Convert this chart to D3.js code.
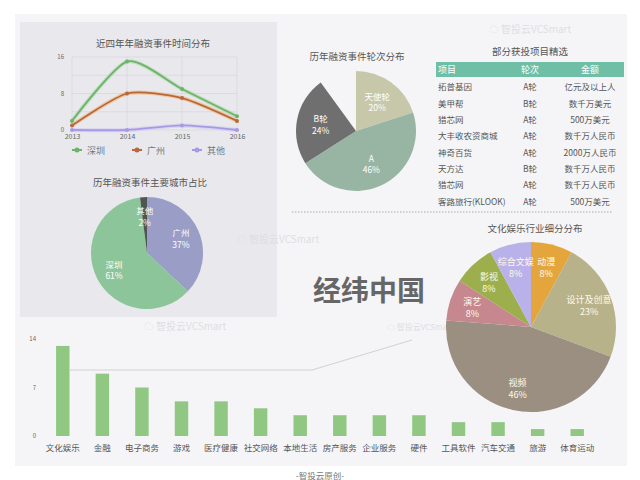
<!DOCTYPE html>
<html>
<head>
<meta charset="utf-8">
<script src="https://cdn.jsdelivr.net/npm/d3@7"></script>
<style>
body { margin: 0; background: #fff; }
text { font-family: "Noto Sans CJK SC", "Noto Sans", sans-serif; }
</style>
</head>
<body>
<script>
// line chart data
var years = ["2013", "2014", "2015", "2016"];
var szVals = [2, 15, 9, 3];
var gzVals = [1, 8, 7, 2];
var otVals = [0, 0, 1, 0];
var lineNames = ["深圳", "广州", "其他"];

// city pie
var cityNames = ["广州", "深圳", "其他"];
var cityPct = [37, 61, 2];

// round pie (last slice is not shown in the picture)
var roundNames = ["天使轮", "A", "B轮", ""];
var roundPct = [20, 46, 24, 10];

// table
var tblHead = ["项目", "轮次", "金额"];
var tblProj = ["拓普基因", "美甲帮", "猎芯网", "大丰收农资商城", "神奇百货", "天方达", "猎芯网", "客路旅行(KLOOK)"];
var tblRound = ["A轮", "B轮", "A轮", "A轮", "A轮", "B轮", "A轮", "A轮"];
var tblMoney = ["亿元及以上人", "数千万美元", "500万美元", "数千万人民币", "2000万人民币", "数千万人民币", "数千万人民币", "500万美元"];

// culture pie
var cultNames = ["动漫", "设计及创意", "视频", "演艺", "影视", "综合文娱"];
var cultPct = [8, 23, 46, 8, 8, 8];

// industry bars
var industries = ["文化娱乐", "金融", "电子商务", "游戏", "医疗健康", "社交网络", "本地生活", "房产服务", "企业服务", "硬件", "工具软件", "汽车交通", "旅游", "体育运动"];
var indCounts = [13, 9, 7, 5, 5, 4, 3, 3, 3, 3, 2, 2, 1, 1];
var barTicks = [0, 7, 14];

var svg = d3.select("body").append("svg")
    .attr("width", 640).attr("height", 480);

// background card + top-left panel
svg.append("rect").attr("x", 15).attr("y", 14).attr("width", 612).attr("height", 452).attr("fill", "#f5f5f7");
svg.append("rect").attr("x", 20).attr("y", 22).attr("width", 257).attr("height", 295).attr("fill", "#e8e8ed");

// watermarks
var marks = [[530, 33, 10], [278, 243, 10], [185, 330, 10], [420, 330, 8]];
marks.forEach(function(m) {
  svg.append("text").attr("x", m[0]).attr("y", m[1]).attr("text-anchor", "middle")
    .attr("font-size", m[2]).attr("fill", "#dedee3").text("☁ 智投云VCSmart");
});

// ---------- line chart ----------
var lx = d3.scalePoint().domain(years).range([72, 237]);
var ly = d3.scaleLinear().domain([0, 16]).range([130, 57]);

svg.append("text").attr("x", 153).attr("y", 47).attr("text-anchor", "middle")
  .attr("font-size", 9.5).attr("fill", "#555").text("近四年年融资事件时间分布");

var lg = svg.append("g");
lg.selectAll(".hg").data([0, 4, 8, 12, 16]).enter().append("line")
  .attr("x1", 72).attr("x2", 237)
  .attr("y1", function(d) { return ly(d); }).attr("y2", function(d) { return ly(d); })
  .attr("stroke", "#d6d6dc").attr("stroke-width", 0.7);
lg.selectAll(".vg").data(years).enter().append("line")
  .attr("x1", function(d) { return lx(d); }).attr("x2", function(d) { return lx(d); })
  .attr("y1", 57).attr("y2", 130)
  .attr("stroke", "#d6d6dc").attr("stroke-width", 0.7);

var yAx = svg.append("g").attr("transform", "translate(72,0)")
  .call(d3.axisLeft(ly).tickValues([0, 8, 16]).tickSize(0).tickPadding(8));
yAx.select(".domain").remove();
yAx.selectAll("text").attr("font-size", 6).attr("fill", "#666");

var xAx = svg.append("g").attr("transform", "translate(0,130)")
  .call(d3.axisBottom(lx).tickSize(0).tickPadding(4));
xAx.select(".domain").remove();
xAx.selectAll("text").attr("font-size", 7).attr("fill", "#666");

var series = [
  {name: lineNames[0], vals: szVals, color: "#6db36b", glow: "#a9d9a0"},
  {name: lineNames[1], vals: gzVals, color: "#b8693a", glow: "#f2b277"},
  {name: lineNames[2], vals: otVals, color: "#a899e4", glow: "#cfc6f2"}
];
var line = d3.line()
  .x(function(d, i) { return lx(years[i]); })
  .y(function(d) { return ly(d); })
  .curve(d3.curveCardinal.tension(0.3));

series.forEach(function(s) {
  lg.append("path").attr("d", line(s.vals)).attr("fill", "none")
    .attr("stroke", s.glow).attr("stroke-width", 4).attr("stroke-opacity", 0.6);
  lg.append("path").attr("d", line(s.vals)).attr("fill", "none")
    .attr("stroke", s.color).attr("stroke-width", 1.8);
  lg.selectAll(null).data(s.vals).enter().append("circle")
    .attr("cx", function(d, i) { return lx(years[i]); })
    .attr("cy", function(d) { return ly(d); })
    .attr("r", 2).attr("fill", s.color);
});

// legend
var legX = [72, 132, 192];
series.forEach(function(s, i) {
  var g = svg.append("g").attr("transform", "translate(" + legX[i] + ",150)");
  g.append("line").attr("x1", 0).attr("x2", 10).attr("stroke", s.color).attr("stroke-width", 2);
  g.append("circle").attr("cx", 5).attr("r", 2.5).attr("fill", s.color);
  g.append("text").attr("x", 15).attr("y", 3.5).attr("font-size", 9).attr("fill", "#777").text(s.name);
});

// ---------- pies ----------
function drawPie(cx, cy, r, names, vals, colors, labelR, fsize, txtColor) {
  var pie = d3.pie().sort(null).value(function(d) { return d; });
  var arcs = pie(vals);
  var arc = d3.arc().innerRadius(0).outerRadius(r);
  var lab = d3.arc().innerRadius(labelR).outerRadius(labelR);
  var g = svg.append("g").attr("transform", "translate(" + cx + "," + cy + ")");
  g.selectAll("path").data(arcs).enter().append("path")
    .attr("d", arc).attr("fill", function(d, i) { return colors[i]; });
  var total = d3.sum(vals);
  arcs.forEach(function(a, i) {
    if (!names[i]) return;
    var c = lab.centroid(a);
    var t = g.append("text").attr("text-anchor", "middle")
      .attr("font-size", fsize).attr("fill", txtColor);
    t.append("tspan").attr("x", c[0]).attr("y", c[1] - 2).text(names[i]);
    t.append("tspan").attr("x", c[0]).attr("y", c[1] + fsize + 1)
      .text(Math.round(vals[i] / total * 100) + "%");
  });
}

svg.append("text").attr("x", 150).attr("y", 186).attr("text-anchor", "middle")
  .attr("font-size", 9.5).attr("fill", "#555").text("历年融资事件主要城市占比");
drawPie(147, 253, 56, cityNames, cityPct, ["#9a9dc6", "#8cc59a", "#4f5652"], 37, 8.5, "#fff");

svg.append("text").attr("x", 357).attr("y", 60).attr("text-anchor", "middle")
  .attr("font-size", 9.5).attr("fill", "#555").text("历年融资事件轮次分布");
drawPie(356, 131, 60, roundNames, roundPct, ["#c6c8a9", "#98b5a4", "#6f6f70", "none"], 36, 8.5, "#fff");

svg.append("text").attr("x", 535).attr("y", 232).attr("text-anchor", "middle")
  .attr("font-size", 9.5).attr("fill", "#555").text("文化娱乐行业细分分布");
drawPie(531, 327, 85, cultNames, cultPct,
  ["#e4a53c", "#b8b28b", "#9b8f82", "#c7878f", "#9dae4c", "#b9b1ea"], 62, 9, "#fffbe8");

// ---------- table ----------
svg.append("text").attr("x", 530).attr("y", 55).attr("text-anchor", "middle")
  .attr("font-size", 9.5).attr("fill", "#555").text("部分获投项目精选");
svg.append("rect").attr("x", 436).attr("y", 62).attr("width", 188).attr("height", 15).attr("fill", "#6fbfa6");
var colX = [438, 530, 590];
var anchors = ["start", "middle", "middle"];
tblHead.forEach(function(h, i) {
  svg.append("text").attr("x", colX[i]).attr("y", 73).attr("text-anchor", anchors[i])
    .attr("font-size", 9).attr("fill", "#fff").text(h);
});
var ry = d3.scaleBand().domain(d3.range(tblProj.length)).range([79, 210]);
[tblProj, tblRound, tblMoney].forEach(function(col, ci) {
  svg.selectAll(null).data(col).enter().append("text")
    .attr("x", colX[ci])
    .attr("y", function(d, i) { return ry(i) + ry.bandwidth() / 2 + 3; })
    .attr("text-anchor", anchors[ci])
    .attr("font-size", 8.5).attr("fill", "#555")
    .text(function(d) { return d; });
});

// dotted separator
svg.append("line").attr("x1", 292).attr("x2", 612).attr("y1", 212).attr("y2", 212)
  .attr("stroke", "#9a9a9a").attr("stroke-width", 0.8).attr("stroke-dasharray", "1.5,1.5");

// big title
svg.append("text").attr("x", 369).attr("y", 301).attr("text-anchor", "middle")
  .attr("font-size", 28).attr("font-weight", "bold").attr("fill", "#666").text("经纬中国");

// ---------- bars ----------
var bx = d3.scaleBand().domain(industries).range([43, 597]).paddingInner(0.66).paddingOuter(0.33);
var by = d3.scaleLinear().domain([0, 14]).range([436, 339]);

// connector line
svg.append("polyline").attr("points", "70,370 312,370 412,340")
  .attr("fill", "none").attr("stroke", "#c8c8cc").attr("stroke-width", 0.8);

svg.selectAll(".bar").data(indCounts).enter().append("rect")
  .attr("x", function(d, i) { return bx(industries[i]); })
  .attr("width", bx.bandwidth())
  .attr("y", function(d) { return by(d); })
  .attr("height", function(d) { return by(0) - by(d); })
  .attr("fill", "#90c883");

var bY = svg.append("g").attr("transform", "translate(36,0)")
  .call(d3.axisLeft(by).tickValues(barTicks).tickSize(0).tickPadding(0));
bY.select(".domain").remove();
bY.selectAll("text").attr("font-size", 6).attr("fill", "#666");

var bX = svg.append("g").attr("transform", "translate(0,437)")
  .call(d3.axisBottom(bx).tickSize(0).tickPadding(8));
bX.select(".domain").remove();
bX.selectAll("text").attr("font-size", 8.5).attr("fill", "#555");

// footer
svg.append("text").attr("x", 320).attr("y", 479).attr("text-anchor", "middle")
  .attr("font-size", 8.5).attr("fill", "#777").text("-智投云原创-");
</script>
</body>
</html>
